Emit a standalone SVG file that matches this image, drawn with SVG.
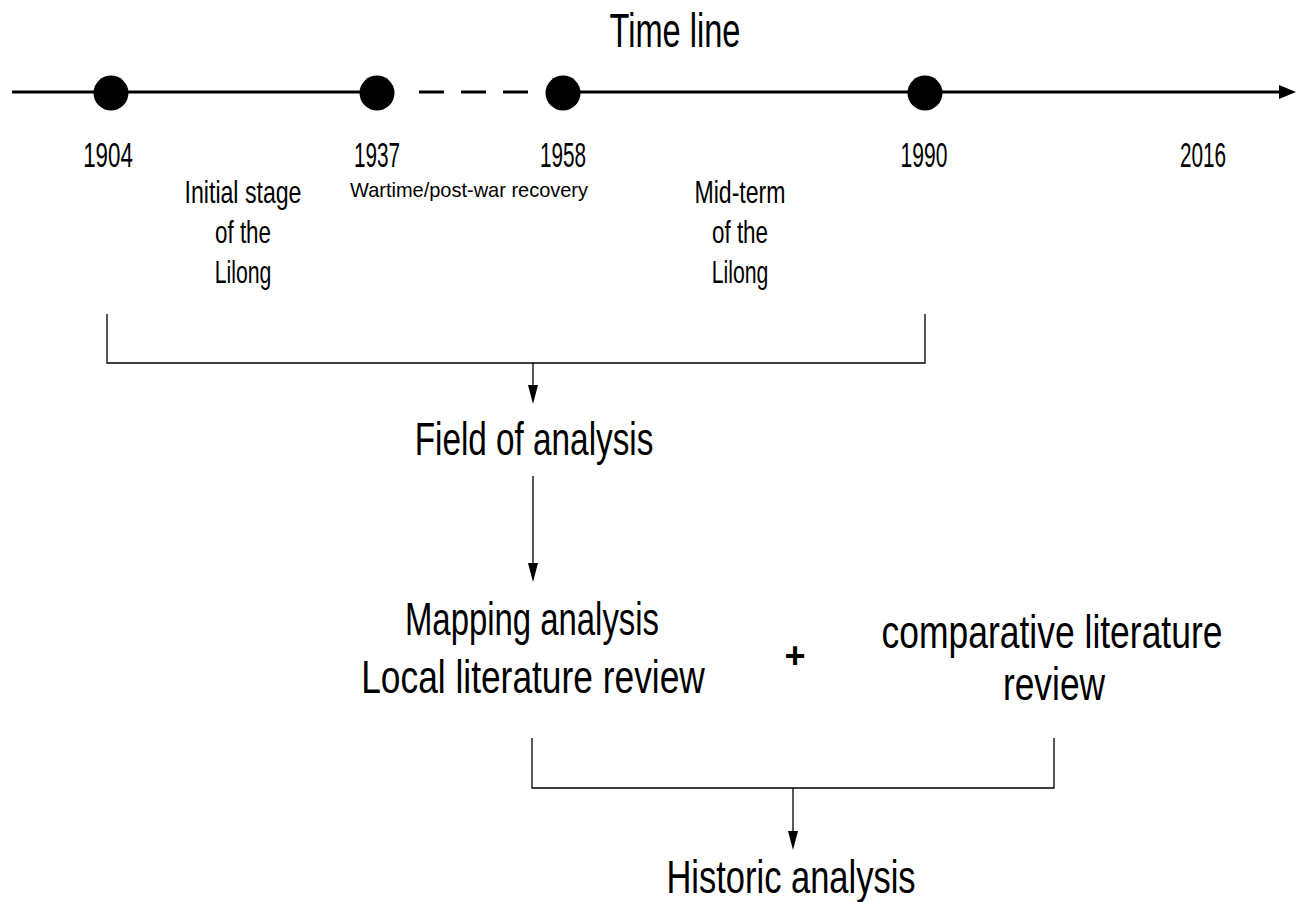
<svg xmlns="http://www.w3.org/2000/svg" width="1305" height="902" viewBox="0 0 1305 902">
<defs>
<style>
text{font-family:"Liberation Sans","DejaVu Sans",sans-serif;fill:#000;text-anchor:middle}
.title{font-size:49px}
.yr{font-size:35px}
.lbl{font-size:32px}
.sm{font-size:20px}
.big{font-size:47px}
.plus{font-size:36px;font-weight:bold}
.tl{stroke:#000;stroke-width:3;fill:none}
.br{stroke:#000;stroke-width:1.3;fill:none}
</style>
</defs>
<rect width="1305" height="902" fill="#fff"/>
<g id="title"><text class="title" transform="translate(675,47) scale(0.7,1)" textLength="187" lengthAdjust="spacingAndGlyphs">Time line</text></g>
<g id="connectors">
<line class="tl" x1="12" y1="92" x2="377" y2="92"/>
<line class="tl" x1="419" y1="92" x2="528" y2="92" stroke-dasharray="25 17"/>
<line class="tl" x1="563" y1="92" x2="1282" y2="92"/>
<path d="M1279,85 L1296,92 L1279,99 Z" fill="#000"/>
<path class="br" d="M107,314 V363 H925 V314"/>
<line class="br" x1="533" y1="363" x2="533" y2="386"/>
<path d="M528,385 L538,385 L533,404 Z" fill="#000"/>
<line class="br" x1="533" y1="476" x2="533" y2="564"/>
<path d="M528,563 L538,563 L533,582 Z" fill="#000"/>
<path class="br" d="M532,738 V788 H1054 V738"/>
<line class="br" x1="793" y1="788" x2="793" y2="832"/>
<path d="M788,831 L798,831 L793,850 Z" fill="#000"/>
</g>
<g id="node-1904"><circle cx="111" cy="93" r="17.5"/><text class="yr" transform="translate(108,167) scale(0.7,1)" textLength="71" lengthAdjust="spacingAndGlyphs">1904</text></g>
<g id="node-1937"><circle cx="377" cy="93" r="17.5"/><text class="yr" transform="translate(377,167) scale(0.7,1)" textLength="66" lengthAdjust="spacingAndGlyphs">1937</text></g>
<g id="node-1958"><circle cx="563" cy="93" r="17.5"/><text class="yr" transform="translate(563,167) scale(0.7,1)" textLength="66" lengthAdjust="spacingAndGlyphs">1958</text></g>
<g id="node-1990"><circle cx="925" cy="93" r="17.5"/><text class="yr" transform="translate(924,167) scale(0.7,1)" textLength="67" lengthAdjust="spacingAndGlyphs">1990</text></g>
<g id="node-2016"><text class="yr" transform="translate(1203,167) scale(0.7,1)" textLength="66" lengthAdjust="spacingAndGlyphs">2016</text></g>
<g id="label-initial">
<text class="lbl" transform="translate(243,203) scale(0.7,1)" textLength="167" lengthAdjust="spacingAndGlyphs">Initial stage</text>
<text class="lbl" transform="translate(243,243) scale(0.7,1)" textLength="80" lengthAdjust="spacingAndGlyphs">of the</text>
<text class="lbl" transform="translate(243,283) scale(0.7,1)" textLength="81" lengthAdjust="spacingAndGlyphs">Lilong</text>
</g>
<g id="label-wartime"><text class="sm" transform="translate(469,197) scale(0.7,1)" textLength="340" lengthAdjust="spacingAndGlyphs">Wartime/post-war recovery</text></g>
<g id="label-midterm">
<text class="lbl" transform="translate(740,203) scale(0.7,1)" textLength="130" lengthAdjust="spacingAndGlyphs">Mid-term</text>
<text class="lbl" transform="translate(740,243) scale(0.7,1)" textLength="80" lengthAdjust="spacingAndGlyphs">of the</text>
<text class="lbl" transform="translate(740,283) scale(0.7,1)" textLength="81" lengthAdjust="spacingAndGlyphs">Lilong</text>
</g>
<g id="node-field"><text class="big" transform="translate(534,455) scale(0.7,1)" textLength="341" lengthAdjust="spacingAndGlyphs">Field of analysis</text></g>
<g id="node-mapping">
<text class="big" transform="translate(532,635) scale(0.7,1)" textLength="363" lengthAdjust="spacingAndGlyphs">Mapping analysis</text>
<text class="big" transform="translate(533,693) scale(0.7,1)" textLength="491" lengthAdjust="spacingAndGlyphs">Local literature review</text>
</g>
<g id="plus"><text class="plus" x="795" y="668">+</text></g>
<g id="node-comparative">
<text class="big" transform="translate(1052,648) scale(0.7,1)" textLength="487" lengthAdjust="spacingAndGlyphs">comparative literature</text>
<text class="big" transform="translate(1054,700) scale(0.7,1)" textLength="146" lengthAdjust="spacingAndGlyphs">review</text>
</g>
<g id="node-historic"><text class="big" transform="translate(791,893) scale(0.7,1)" textLength="356" lengthAdjust="spacingAndGlyphs">Historic analysis</text></g>
</svg>
